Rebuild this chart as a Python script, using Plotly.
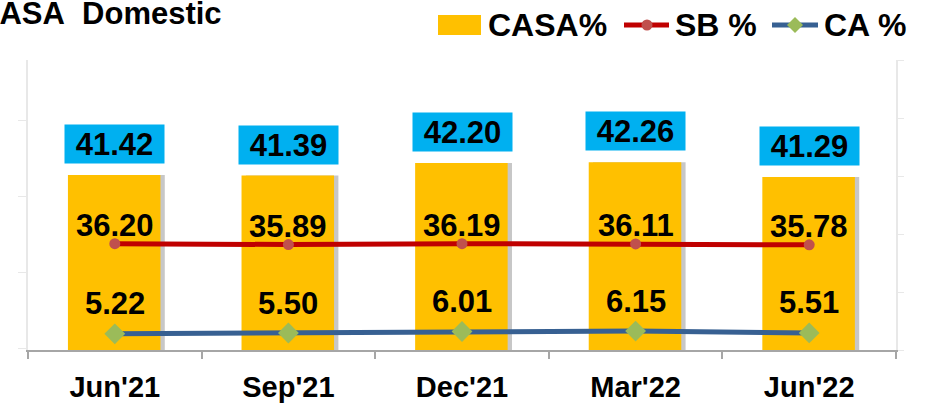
import plotly.graph_objects as go

categories = ["Jun'21", "Sep'21", "Dec'21", "Mar'22", "Jun'22"]
casa = [41.42, 41.39, 42.20, 42.26, 41.29]
sb = [36.20, 35.89, 36.19, 36.11, 35.78]
ca = [5.22, 5.50, 6.01, 6.15, 5.51]

FONT = "Arial, Liberation Sans, sans-serif"
ORANGE = "#FFC000"
CYAN = "#00B0F0"
RED = "#C00000"
RED_M = "#C0504D"
BLUE = "#376092"
GREEN = "#9BBB59"

W, H = 933, 403
ML, MR, MT, MB = 28, 37, 60, 53
PW, PH = W - ML - MR, H - MT - MB


def px(x):
    return (x - ML) / PW


def py(y):
    return (H - MB - y) / PH


fig = go.Figure()

# shadow for bars
fig.add_trace(go.Bar(x=categories, y=casa, width=0.533, offset=-0.27 + 0.025,
                     marker=dict(color="rgba(0,0,0,0.22)", line=dict(width=0)),
                     hoverinfo="skip", showlegend=False))
fig.add_trace(go.Bar(x=categories, y=casa, width=0.533, offset=-0.27,
                     marker=dict(color=ORANGE, line=dict(width=0)),
                     name="CASA%", showlegend=False))
fig.add_trace(go.Scatter(x=categories, y=sb, yaxis="y2", mode="lines+markers",
                         line=dict(color=RED, width=5),
                         marker=dict(symbol="circle", size=11, color=RED_M),
                         name="SB %", showlegend=False))
fig.add_trace(go.Scatter(x=categories, y=ca, yaxis="y2", mode="lines+markers",
                         line=dict(color=BLUE, width=5),
                         marker=dict(symbol="diamond", size=16, color=GREEN),
                         name="CA %", showlegend=False))

annotations = []
for c, v in zip(categories, casa):
    annotations.append(dict(x=c, y=v, xref="x", yref="y", text=f"<b>{v:.2f}</b>",
                            showarrow=False, yshift=31, bgcolor=CYAN, width=97, height=36,
                            font=dict(family=FONT, size=31, color="black")))
for c, v in zip(categories, sb):
    annotations.append(dict(x=c, y=v, xref="x", yref="y2", text=f"<b>{v:.2f}</b>",
                            showarrow=False, yshift=18,
                            font=dict(family=FONT, size=31, color="black")))
for c, v in zip(categories, ca):
    annotations.append(dict(x=c, y=v, xref="x", yref="y2", text=f"<b>{v:.2f}</b>",
                            showarrow=False, yshift=30,
                            font=dict(family=FONT, size=31, color="black")))

# title (cut off at left as in the source)
annotations.append(dict(xref="paper", yref="paper", x=px(-25), y=py(14), xanchor="left",
                        yanchor="middle", showarrow=False,
                        text="<b>CASA\u00a0\u00a0Domestic</b>",
                        font=dict(family=FONT, size=31, color="black")))

# custom legend
legend_items = [("CASA%", 486), ("SB %", 673), ("CA %", 822)]
for name, lx in legend_items:
    annotations.append(dict(xref="paper", yref="paper", x=px(lx), y=py(25), xanchor="left",
                            yanchor="middle", showarrow=False, text=f"<b>{name}</b>",
                            font=dict(family=FONT, size=32, color="black")))

shapes = [
    dict(type="rect", xref="paper", yref="paper", x0=px(438), x1=px(481), y0=py(35), y1=py(15),
         fillcolor=ORANGE, line=dict(width=0)),
    dict(type="line", xref="paper", yref="paper", x0=px(624), x1=px(669), y0=py(25), y1=py(25),
         line=dict(color=RED, width=5)),
    dict(type="circle", xref="paper", yref="paper", xsizemode="pixel", ysizemode="pixel",
         xanchor=px(647), yanchor=py(25), x0=-5.5, x1=5.5, y0=-5.5, y1=5.5,
         fillcolor=RED_M, line=dict(width=0)),
    dict(type="line", xref="paper", yref="paper", x0=px(772), x1=px(818), y0=py(25), y1=py(25),
         line=dict(color=BLUE, width=5)),
    dict(type="path", xref="paper", yref="paper", xsizemode="pixel", ysizemode="pixel",
         xanchor=px(795), yanchor=py(25), path="M0,-8 L8,0 L0,8 L-8,0 Z",
         fillcolor=GREEN, line=dict(width=0)),
]

fig.update_layout(
    width=W, height=H,
    margin=dict(l=ML, r=MR, t=MT, b=MB, pad=0, autoexpand=False),
    paper_bgcolor="white", plot_bgcolor="white",
    barmode="overlay",
    showlegend=False,
    annotations=annotations,
    shapes=shapes,
    xaxis=dict(type="category", showline=True, linecolor="#A6A6A6", linewidth=2,
               ticks="outside", tickson="boundaries", ticklen=7, tickcolor="#A6A6A6",
               tickwidth=1.5, showgrid=False, ticklabelstandoff=10, automargin=False,
               tickfont=dict(family=FONT, size=29, color="black", weight="bold"),
               range=[-0.5, 4.5]),
    yaxis=dict(side="right", range=[30, 48.93], showline=True, linecolor="#E8E8E8",
               linewidth=1.5, ticks="outside", ticklen=6, tickcolor="#E8E8E8",
               automargin=False,
               tick0=30, dtick=3.78, showticklabels=False, showgrid=False, zeroline=False),
    yaxis2=dict(side="left", overlaying="y", range=[-0.34, 99.3], showline=True,
                linecolor="#E8E8E8", linewidth=1.5, ticks="outside", ticklen=8,
                tickcolor="#E8E8E8", tick0=0.34, dtick=26.1, showticklabels=False,
                automargin=False,
                showgrid=False, zeroline=False),
)

fig.write_html("out.html", config={"displayModeBar": False},
               post_script="document.body.style.margin='0';")
